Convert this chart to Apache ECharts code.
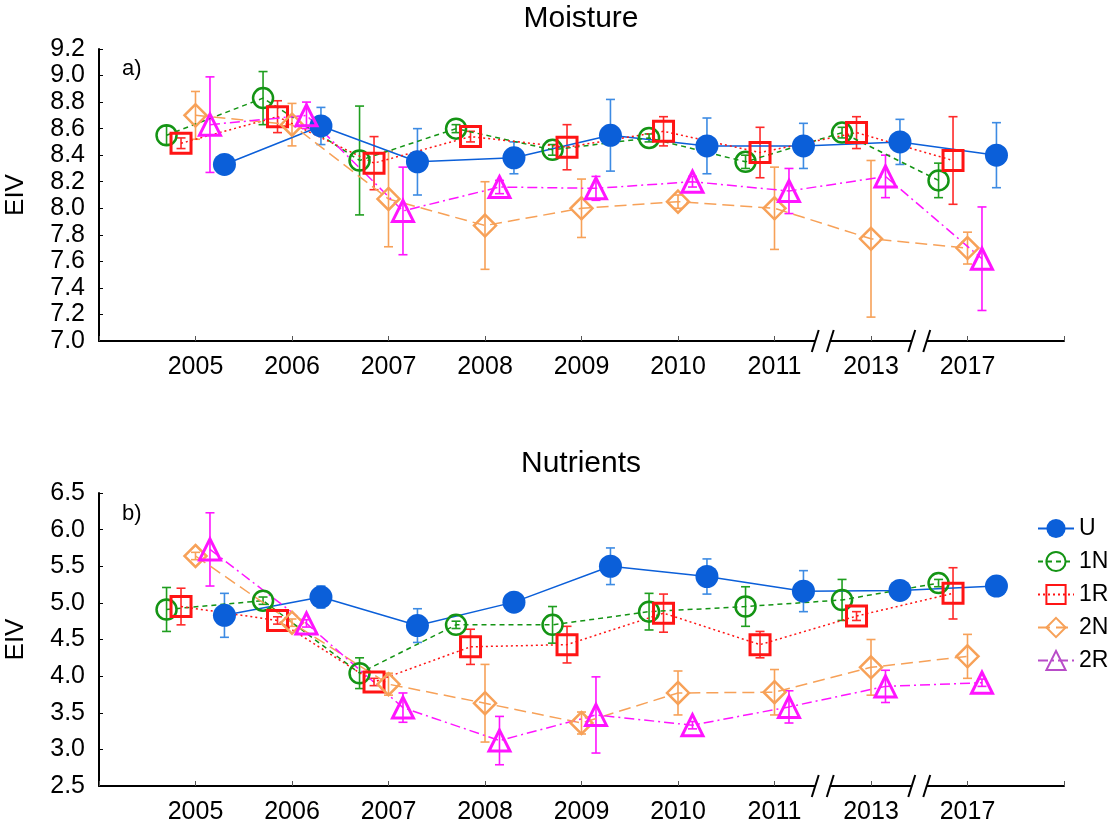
<!DOCTYPE html>
<html>
<head>
<meta charset="utf-8">
<script src="https://cdn.jsdelivr.net/npm/echarts@6/dist/echarts.min.js"></script>
<style>
  html, body { margin: 0; padding: 0; background: #fff; }
  #chart { width: 1117px; height: 830px; }
</style>
</head>
<body>
<div id="chart"></div>
<script>
const years = ['2005', '2006', '2007', '2008', '2009', '2010', '2011', '2013', '2017'];

// Moisture (panel a)
const moistU = [8.33, 8.62, 8.35, 8.38, 8.55, 8.47, 8.47, 8.50, 8.40];
const moistUErr = [0.05, 0.14, 0.25, 0.12, 0.27, 0.21, 0.17, 0.17, 0.245];
const moist1N = [8.55, 8.83, 8.36, 8.60, 8.44, 8.53, 8.35, 8.57, 8.21];
const moist1NErr = [0.07, 0.20, 0.41, 0.03, 0.04, 0.03, 0.05, 0.04, 0.13];
const moist1R = [8.49, 8.69, 8.34, 8.54, 8.46, 8.58, 8.42, 8.57, 8.36];
const moist1RErr = [0.04, 0.12, 0.20, 0.04, 0.17, 0.11, 0.19, 0.12, 0.33];
const moist2N = [8.70, 8.63, 8.07, 7.87, 8.00, 8.05, 8.00, 7.77, 7.70];
const moist2NErr = [0.18, 0.16, 0.36, 0.33, 0.22, 0.05, 0.31, 0.59, 0.12];
const moist2R = [8.63, 8.70, 7.98, 8.16, 8.15, 8.20, 8.13, 8.24, 7.62];
const moist2RErr = [0.36, 0.10, 0.33, 0.05, 0.09, 0.04, 0.17, 0.16, 0.39];

// Nutrients (panel b)
const nutrU = [4.83, 5.08, 4.69, 5.01, 5.50, 5.36, 5.16, 5.17, 5.23];
const nutrUErr = [0.30, 0.15, 0.23, 0.05, 0.25, 0.24, 0.28, 0.05, 0.05];
const nutr1N = [4.91, 5.03, 4.04, 4.70, 4.70, 4.88, 4.95, 5.04, 5.27];
const nutr1NErr = [0.30, 0.05, 0.21, 0.05, 0.25, 0.25, 0.27, 0.28, 0.05];
const nutr1R = [4.95, 4.76, 3.92, 4.40, 4.43, 4.86, 4.43, 4.82, 5.13];
const nutr1RErr = [0.25, 0.05, 0.05, 0.24, 0.25, 0.26, 0.18, 0.06, 0.35];
const nutr2N = [5.64, 4.73, 3.89, 3.63, 3.36, 3.77, 3.78, 4.12, 4.27];
const nutr2NErr = [0.05, 0.05, 0.15, 0.53, 0.15, 0.30, 0.31, 0.38, 0.30];
const nutr2R = [5.73, 4.72, 3.57, 3.12, 3.47, 3.33, 3.58, 3.86, 3.91];
const nutr2RErr = [0.50, 0.05, 0.20, 0.33, 0.52, 0.05, 0.22, 0.22, 0.05];

const FONT = '"Liberation Sans", Arial, sans-serif';

// look of each group; dx = offset inside the year slot
const groups = [
  { name: 'U',  dx: 0.30,  color: '#0b5fd9', errColor: '#3d8be3', symbol: 'circle',   size: 23, filled: true,  border: 0,   dash: 'solid',          lineWidth: 1.5 },
  { name: '1N', dx: -0.30, color: '#149414', errColor: '#1f9e1f', symbol: 'circle',   size: 20, filled: false, border: 2.5, dash: [5, 4],           lineWidth: 1.5 },
  { name: '1R', dx: -0.15, color: '#ff1414', errColor: '#ff2a2a', symbol: 'rect',     size: 20, filled: false, border: 3,   dash: [2, 3],           lineWidth: 1.5 },
  { name: '2N', dx: 0,     color: '#f7a158', errColor: '#f7a158', symbol: 'diamond',  size: 22, filled: false, border: 2.5, dash: [12, 6],          lineWidth: 1.5 },
  { name: '2R', dx: 0.15,  color: '#ff14ff', errColor: '#ff14ff', symbol: 'triangle', size: 21, filled: false, border: 3,   dash: [10, 4, 2, 4],    lineWidth: 1.5 }
];

const panels = [
  { values: { U: moistU, '1N': moist1N, '1R': moist1R, '2N': moist2N, '2R': moist2R },
    errs:   { U: moistUErr, '1N': moist1NErr, '1R': moist1RErr, '2N': moist2NErr, '2R': moist2RErr } },
  { values: { U: nutrU, '1N': nutr1N, '1R': nutr1R, '2N': nutr2N, '2R': nutr2R },
    errs:   { U: nutrUErr, '1N': nutr1NErr, '1R': nutr1RErr, '2N': nutr2NErr, '2R': nutr2RErr } }
];

function errorBarRenderer(color) {
  return function (params, api) {
    const x = api.value(0);
    const top = api.coord([x, api.value(2)]);
    const bot = api.coord([x, api.value(1)]);
    const cap = 4.5;
    const style = { stroke: color, lineWidth: 1.6 };
    return {
      type: 'group',
      children: [
        { type: 'line', shape: { x1: top[0], y1: top[1], x2: bot[0], y2: bot[1] }, style: style },
        { type: 'line', shape: { x1: top[0] - cap, y1: top[1], x2: top[0] + cap, y2: top[1] }, style: style },
        { type: 'line', shape: { x1: bot[0] - cap, y1: bot[1], x2: bot[0] + cap, y2: bot[1] }, style: style }
      ]
    };
  };
}

function buildSeries() {
  const series = [];
  panels.forEach((panel, p) => {
    groups.forEach(g => {
      const vals = panel.values[g.name];
      const errs = panel.errs[g.name];
      series.push({
        type: 'custom',
        name: g.name + ' err',
        xAxisIndex: p,
        yAxisIndex: p,
        renderItem: errorBarRenderer(g.errColor),
        data: vals.map((v, i) => [i + 1 + g.dx, v - errs[i], v + errs[i]]),
        encode: { x: 0, y: [1, 2] },
        silent: true,
        z: 2
      });
      series.push({
        type: 'line',
        name: g.name,
        xAxisIndex: p,
        yAxisIndex: p,
        data: vals.map((v, i) => [i + 1 + g.dx, v]),
        symbol: g.symbol,
        symbolSize: g.size,
        itemStyle: g.filled
          ? { color: g.color }
          : { color: 'rgba(255,255,255,0)', borderColor: g.color, borderWidth: g.border },
        lineStyle: { color: g.color, width: g.lineWidth, type: g.dash },
        z: 3
      });
    });
  });
  return series;
}

function xAxisFor(gridIndex) {
  return {
    type: 'value',
    gridIndex: gridIndex,
    min: 0,
    max: 10,
    interval: 1,
    splitLine: { show: false },
    axisLine: { show: true, onZero: false, lineStyle: { color: '#000', width: 2 } },
    axisTick: { show: true, inside: true, length: 5, lineStyle: { color: '#555', width: 1 } },
    axisLabel: {
      fontFamily: FONT, fontSize: 25, color: '#000', margin: 14,
      formatter: v => (v >= 1 && v <= years.length ? years[v - 1] : '')
    }
  };
}

function yAxisFor(gridIndex, min, max, interval) {
  return {
    type: 'value',
    gridIndex: gridIndex,
    min: min,
    max: max,
    interval: interval,
    name: 'EIV',
    nameLocation: 'middle',
    nameGap: 70,
    nameTextStyle: { fontFamily: FONT, fontSize: 26, color: '#000' },
    splitLine: { show: false },
    axisLine: { show: true, lineStyle: { color: '#000', width: 2 } },
    axisTick: { show: true, inside: true, length: 4, lineStyle: { color: '#000', width: 1 } },
    axisLabel: {
      fontFamily: FONT, fontSize: 25, color: '#000', margin: 14,
      formatter: v => v.toFixed(1)
    }
  };
}

const chart = echarts.init(document.getElementById('chart'), null, { renderer: 'canvas' });

const option = {
  animation: false,
  backgroundColor: '#fff',
  grid: [
    { left: 99, top: 49, width: 965, height: 292, outerBoundsMode: 'none' },
    { left: 99, top: 493, width: 965, height: 293, outerBoundsMode: 'none' }
  ],
  xAxis: [xAxisFor(0), xAxisFor(1)],
  yAxis: [yAxisFor(0, 7.0, 9.2, 0.2), yAxisFor(1, 2.5, 6.5, 0.5)],
  legend: {
    orient: 'vertical',
    left: 1032,
    top: 512,
    itemWidth: 36,
    itemHeight: 24,
    itemGap: 10,
    textStyle: { fontFamily: FONT, fontSize: 23, color: '#000' },
    data: [
      { name: 'U' },
      { name: '1N' },
      { name: '1R' },
      { name: '2N' },
      { name: '2R', itemStyle: { borderColor: '#b84cc8' }, lineStyle: { color: '#b84cc8' } }
    ]
  },
  graphic: [
    { type: 'text', x: 581, y: 19, style: { text: 'Moisture', font: '30px ' + FONT, fill: '#000', textAlign: 'center', textVerticalAlign: 'middle' } },
    { type: 'text', x: 581, y: 464, style: { text: 'Nutrients', font: '30px ' + FONT, fill: '#000', textAlign: 'center', textVerticalAlign: 'middle' } },
    { type: 'text', x: 122, y: 69, style: { text: 'a)', font: '22px ' + FONT, fill: '#000', textVerticalAlign: 'middle' } },
    { type: 'text', x: 122, y: 514, style: { text: 'b)', font: '22px ' + FONT, fill: '#000', textVerticalAlign: 'middle' } }
  ],
  series: buildSeries()
};

chart.setOption(option);

// axis break marks "//" between 2011-2013 and 2013-2017
function drawBreaks() {
  const marks = [];
  [[0, 7.0], [1, 2.5]].forEach(([gi, ymin]) => {
    [7.5, 8.5].forEach(bv => {
      const pt = chart.convertToPixel({ gridIndex: gi }, [bv, ymin]);
      const cx = pt[0], cy = pt[1];
      marks.push({ type: 'rect', shape: { x: cx - 7, y: cy - 3, width: 14, height: 6 }, style: { fill: '#fff' }, z: 100 });
      [-7.5, 7.5].forEach(off => {
        marks.push({
          type: 'line',
          shape: { x1: cx + off - 3.5, y1: cy + 11, x2: cx + off + 3.5, y2: cy - 11 },
          style: { stroke: '#000', lineWidth: 2 },
          z: 101
        });
      });
    });
  });
  chart.setOption({ graphic: option.graphic.concat(marks) });
}
drawBreaks();
</script>
</body>
</html>
